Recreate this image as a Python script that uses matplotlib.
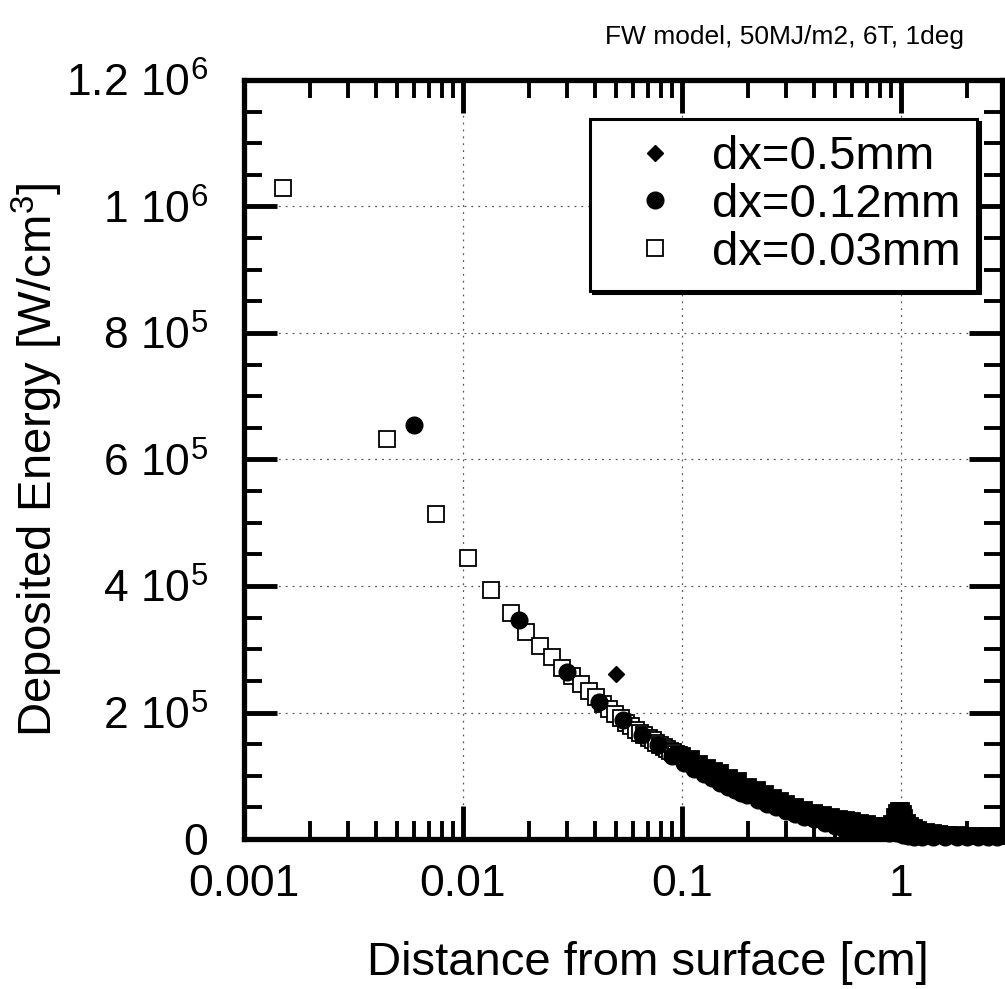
#!/usr/bin/env python3

import matplotlib
matplotlib.use("Agg")
import matplotlib.pyplot as plt
from matplotlib.ticker import FixedLocator, FuncFormatter, LogLocator, NullFormatter

plt.rcParams["font.family"] = ["Liberation Sans", "DejaVu Sans"]
plt.rcParams["mathtext.fontset"] = "custom"
plt.rcParams["mathtext.rm"] = "Liberation Sans"
plt.rcParams["mathtext.default"] = "regular"

TITLE = "FW model, 50MJ/m2, 6T, 1deg"
XLABEL = "Distance from surface [cm]"
YLABEL = "Deposited Energy [W/cm$^{3}$]"

# dx=0.5mm (diamonds)
d05_x = [0.05, 0.1, 0.15, 0.2, 0.25, 0.3, 0.4, 0.5, 0.6, 0.7, 0.8, 0.9,
         1.0, 1.1, 1.2, 1.5, 2.0, 2.5]
d05_y = [2.61e5, 1.28e5, 1.00e5, 8.0e4, 6.6e4, 5.4e4, 4.0e4, 3.0e4, 2.6e4,
         2.2e4, 2.0e4, 2.2e4, 4.0e4, 2.0e4, 1.3e4, 8.0e3, 5.0e3, 4.0e3]

# dx=0.12mm (circles)
d012_x = [0.006, 0.018, 0.030, 0.042, 0.054, 0.066, 0.078, 0.090, 0.102,
          0.114, 0.126, 0.138, 0.150, 0.162, 0.174, 0.186, 0.198, 0.222,
          0.246, 0.27, 0.30, 0.33, 0.36, 0.40, 0.45, 0.50, 0.55, 0.60, 0.66,
          0.72, 0.80, 0.88, 0.96, 1.02, 1.08, 1.15, 1.25, 1.4, 1.6, 1.8, 2.0,
          2.25, 2.5, 2.75]
d012_y = [6.55e5, 3.46e5, 2.64e5, 2.17e5, 1.88e5, 1.64e5, 1.49e5, 1.31e5,
          1.20e5, 1.11e5, 1.03e5, 9.6e4, 8.9e4, 8.3e4, 7.8e4, 7.3e4, 6.9e4,
          6.2e4, 5.6e4, 5.1e4, 4.5e4, 4.0e4, 3.5e4, 3.1e4, 2.5e4, 2.0e4,
          1.6e4, 1.4e4, 1.3e4, 1.2e4, 1.1e4, 1.0e4, 9.0e3, 6.0e3, 4.0e3,
          3.0e3, 3.0e3, 3.0e3, 3.0e3, 3.0e3, 3.0e3, 3.0e3, 3.0e3, 3.0e3]

# dx=0.03mm (squares), individually resolved part
d003_x = [0.0015, 0.0045, 0.0075, 0.0105, 0.0135, 0.0165, 0.0195, 0.0225,
          0.0255, 0.0285, 0.0315, 0.0345, 0.0375, 0.0405, 0.0435, 0.0465,
          0.0495, 0.0525, 0.0555, 0.0585, 0.0615, 0.0645, 0.0675, 0.0705,
          0.0735, 0.0765, 0.0795, 0.0825, 0.0855, 0.0885, 0.0915, 0.0945,
          0.0975]
d003_y = [1.03e6, 6.32e5, 5.14e5, 4.44e5, 3.94e5, 3.57e5, 3.28e5, 3.05e5,
          2.87e5, 2.71e5, 2.57e5, 2.45e5, 2.34e5, 2.24e5, 2.14e5, 2.06e5,
          1.98e5, 1.91e5, 1.84e5, 1.78e5, 1.73e5, 1.68e5, 1.64e5, 1.60e5,
          1.56e5, 1.52e5, 1.48e5, 1.45e5, 1.42e5, 1.39e5, 1.37e5, 1.35e5,
          1.33e5]

# dx=0.03mm (squares), dense part that prints as a solid band
band_x = [0.10, 0.11, 0.12, 0.13, 0.14, 0.15, 0.165, 0.18, 0.2, 0.22, 0.24,
          0.26, 0.28, 0.3, 0.33, 0.36, 0.4, 0.44, 0.48, 0.52, 0.56, 0.6,
          0.65, 0.7, 0.75, 0.8, 0.85, 0.88, 0.91, 0.94, 0.96, 0.98, 1.0,
          1.02, 1.04, 1.07, 1.1, 1.15, 1.2, 1.3, 1.4, 1.5, 1.65, 1.8, 2.0,
          2.2, 2.45, 2.7, 2.9]
band_y = [1.31e5, 1.26e5, 1.19e5, 1.13e5, 1.08e5, 1.04e5, 9.7e4, 9.1e4,
          8.3e4, 7.7e4, 7.1e4, 6.5e4, 6.0e4, 5.5e4, 5.0e4, 4.6e4, 4.1e4,
          3.8e4, 3.5e4, 3.2e4, 3.0e4, 2.8e4, 2.5e4, 2.3e4, 2.1e4, 2.0e4,
          1.9e4, 2.0e4, 2.4e4, 3.4e4, 4.1e4, 4.5e4, 4.5e4, 4.0e4, 3.3e4,
          2.6e4, 2.1e4, 1.7e4, 1.4e4, 1.1e4, 9.0e3, 8.0e3, 7.0e3, 6.0e3,
          5.0e3, 5.0e3, 4.0e3, 4.0e3, 4.0e3]

Y_TICKS = [0, 2e5, 4e5, 6e5, 8e5, 1e6, 1.2e6]
Y_TICK_LABELS = ["0", "2 10$^{5}$", "4 10$^{5}$", "6 10$^{5}$", "8 10$^{5}$",
                 "1 10$^{6}$", "1.2 10$^{6}$"]
X_TICKS = [0.001, 0.01, 0.1, 1]
X_TICK_LABELS = ["0.001", "0.01", "0.1", "1"]


def main():
    fig = plt.figure(figsize=(10.05, 9.89), dpi=100)
    ax = fig.add_axes([244 / 1005, 1 - 839 / 989, 758 / 1005, 759 / 989])

    ax.plot(d003_x, d003_y, "s", ms=11.5, mfc="white", mec="black", mew=1.3,
            clip_on=False, label="dx=0.03mm", zorder=3)
    ax.plot(band_x, band_y, "s", ms=11.5, mfc="black", mec="black", mew=1.3,
            clip_on=False, zorder=3)
    ax.plot(d012_x, d012_y, "o", ms=12, color="black", clip_on=False,
            label="dx=0.12mm", zorder=4)
    ax.plot(d05_x, d05_y, "D", ms=8.5, color="black", clip_on=False,
            label="dx=0.5mm", zorder=5)

    ax.set_xscale("log")
    ax.set_xlim(0.001, 2.9)
    ax.set_ylim(0, 1.2e6)

    ax.xaxis.set_major_locator(FixedLocator(X_TICKS))
    ax.xaxis.set_major_formatter(
        FuncFormatter(lambda v, p: X_TICK_LABELS[X_TICKS.index(v)] if v in X_TICKS else ""))
    ax.xaxis.set_minor_locator(LogLocator(base=10, subs=range(2, 10), numticks=20))
    ax.xaxis.set_minor_formatter(NullFormatter())

    ax.yaxis.set_major_locator(FixedLocator(Y_TICKS))
    ax.set_yticklabels(Y_TICK_LABELS)
    ax.yaxis.set_minor_locator(FixedLocator([i * 5e4 for i in range(25)]))

    ax.tick_params(which="both", direction="in", top=True, right=True,
                   labelsize=32, colors="black")
    ax.tick_params(which="major", length=24, width=3.5)
    ax.tick_params(which="minor", length=13, width=2.8)
    ax.tick_params(axis="x", which="major", pad=18)
    ax.tick_params(axis="y", which="major", pad=26)

    for spine in ax.spines.values():
        spine.set_linewidth(3.8)

    ax.grid(True, which="major", linestyle=(0, (1.5, 4)), color="0.35",
            linewidth=0.9)

    ax.set_xlabel(XLABEL, fontsize=34)
    ax.xaxis.set_label_coords(0.533, -0.1792)
    ax.xaxis.label.set_va("baseline")
    ax.set_ylabel(YLABEL, fontsize=34)
    ax.yaxis.set_label_coords(-0.236, 0.5)

    handles, labels = ax.get_legend_handles_labels()
    order = [2, 1, 0]
    leg = ax.legend([handles[i] for i in order], [labels[i] for i in order],
                    loc="upper right", bbox_to_anchor=(0.967, 0.9486),
                    borderaxespad=0, fontsize=34, labelspacing=0.08,
                    handlelength=2.08, handletextpad=0.17, borderpad=0.34,
                    fancybox=False, framealpha=1, edgecolor="black",
                    shadow={"color": "black", "alpha": 1})
    leg.get_frame().set_linewidth(2.2)

    fig.text(964 / 1005, 1 - 37 / 989, TITLE, fontsize=19, ha="right",
             va="center")

    fig.savefig("out.png", dpi=100)
    plt.close(fig)


if __name__ == "__main__":
    main()
